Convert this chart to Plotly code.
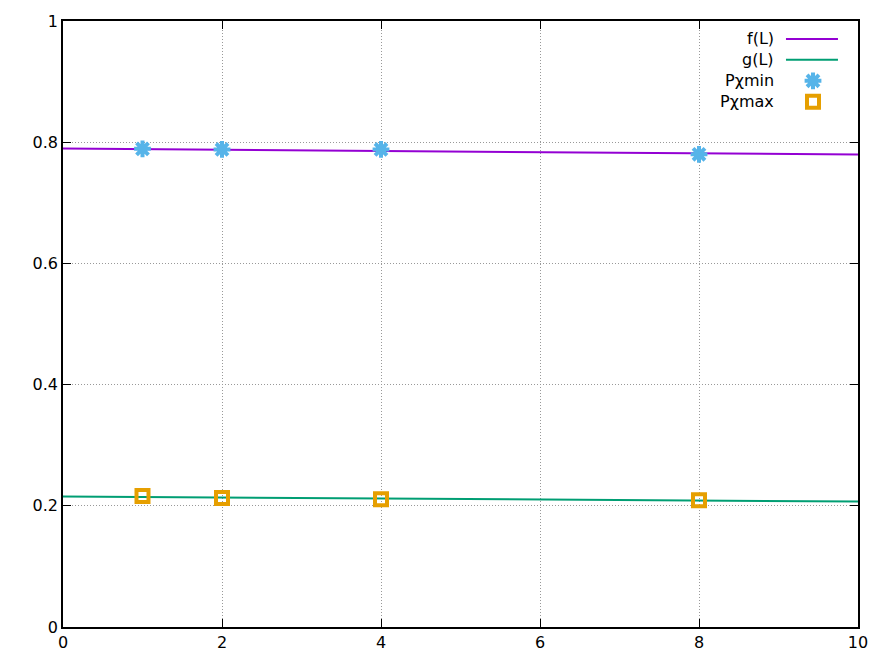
import plotly.graph_objects as go

# Data
f_x = [0, 10]
f_y = [0.7895, 0.7796]
g_x = [0, 10]
g_y = [0.2155, 0.2070]
L_vals = [1, 2, 4, 8]
p_chi_min = [0.789, 0.788, 0.788, 0.780]
p_chi_max = [0.216, 0.213, 0.211, 0.209]
x_ticks = [0, 2, 4, 6, 8, 10]
y_ticks = [0, 0.2, 0.4, 0.6, 0.8, 1]
y_tick_text = ["0", "0.2", "0.4", "0.6", "0.8", "1"]
legend_names = ["f(L)", "g(L)", "P\u03c7min", "P\u03c7max"]

C_F = "#9400d3"
C_G = "#009e73"
C_MIN = "#56b4e9"
C_MAX = "#e69f00"
FONT = "DejaVu Sans"

star = dict(symbol="asterisk-open", size=14, color=C_MIN, line=dict(color=C_MIN, width=4))
sq = dict(symbol="square-open", size=12, color=C_MAX, line=dict(color=C_MAX, width=4))

fig = go.Figure()
fig.add_trace(go.Scatter(x=f_x, y=f_y, mode="lines", line=dict(color=C_F, width=2), showlegend=False))
fig.add_trace(go.Scatter(x=g_x, y=g_y, mode="lines", line=dict(color=C_G, width=2), showlegend=False))
fig.add_trace(go.Scatter(x=L_vals, y=p_chi_min, mode="markers", marker=star, showlegend=False))
fig.add_trace(go.Scatter(x=L_vals, y=p_chi_max, mode="markers", marker=sq, showlegend=False))

# custom gnuplot-style key (text right, sample left)
row_y = [0.9704, 0.9359, 0.9013, 0.8668]
for name, yy in zip(legend_names, row_y):
    fig.add_annotation(x=0.8969, y=yy, xref="x domain", yref="y domain", text=name, showarrow=False,
                       xanchor="right", yanchor="middle", font=dict(family=FONT, size=16, color="black"))
for col, yy in zip([C_F, C_G], row_y[:2]):
    fig.add_shape(type="line", xref="x domain", yref="y domain", x0=0.9094, x1=0.9748, y0=yy, y1=yy,
                  line=dict(color=col, width=2))
fig.add_trace(go.Scatter(x=[0.9434], y=[row_y[2]], xaxis="x2", yaxis="y2", mode="markers",
                         marker=star, showlegend=False, hoverinfo="skip"))
fig.add_trace(go.Scatter(x=[0.9434], y=[row_y[3]], xaxis="x2", yaxis="y2", mode="markers",
                         marker=sq, showlegend=False, hoverinfo="skip"))

axis_common = dict(showline=True, linecolor="black", linewidth=1.5, mirror="ticks", ticks="inside",
                   ticklen=8, tickwidth=1, tickcolor="black", showgrid=True, gridcolor="#999999",
                   griddash="1px,2px", gridwidth=1, zeroline=False,
                   tickfont=dict(family=FONT, size=16, color="black"))
fig.update_layout(
    width=888, height=666,
    margin=dict(l=63, r=30, t=19, b=39),
    plot_bgcolor="white", paper_bgcolor="white",
    xaxis=dict(range=[0, 10], tickvals=x_ticks, **axis_common),
    yaxis=dict(range=[0, 1], tickvals=y_ticks, ticktext=y_tick_text, **axis_common),
    xaxis2=dict(range=[0, 1], overlaying="x", visible=False, fixedrange=True),
    yaxis2=dict(range=[0, 1], overlaying="y", visible=False, fixedrange=True),
    showlegend=False,
)
fig.write_html("out.html", config={"displayModeBar": False},
               post_script="document.body.style.margin='0px';document.body.style.overflow='hidden';")
